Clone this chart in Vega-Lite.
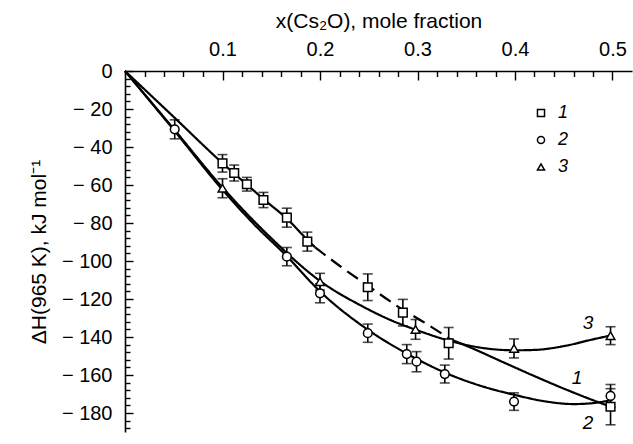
{
  "$schema": "https://vega.github.io/schema/vega-lite/v6.json",
  "width": 507,
  "height": 361,
  "autosize": "none",
  "padding": {"left": 125, "top": 71, "right": 1, "bottom": 12},
  "config": {
    "font": "Liberation Sans",
    "view": {"stroke": null},
    "axis": {"domainColor": "black", "tickColor": "black", "labelColor": "black", "titleColor": "black", "grid": false, "titleFontWeight": "normal", "domainWidth": 1.6, "tickWidth": 1.4}
  },
  "datasets": {
    "pts": [
      {"series": "1", "x": 0.1, "y": -48.6, "ylo": -53.2, "yhi": -44.0},
      {"series": "1", "x": 0.112, "y": -53.7, "ylo": -57.9, "yhi": -49.5},
      {"series": "1", "x": 0.125, "y": -59.6, "ylo": -63.2, "yhi": -56.0},
      {"series": "1", "x": 0.142, "y": -67.9, "ylo": -71.9, "yhi": -63.9},
      {"series": "1", "x": 0.166, "y": -77.2, "ylo": -82.2, "yhi": -72.2},
      {"series": "1", "x": 0.187, "y": -89.8, "ylo": -94.8, "yhi": -84.8},
      {"series": "1", "x": 0.249, "y": -113.8, "ylo": -120.8, "yhi": -106.8},
      {"series": "1", "x": 0.285, "y": -127.2, "ylo": -134.2, "yhi": -120.2},
      {"series": "1", "x": 0.332, "y": -143.3, "ylo": -151.6, "yhi": -135.0},
      {"series": "1", "x": 0.498, "y": -176.7, "ylo": -186.2, "yhi": -167.2},
      {"series": "2", "x": 0.051, "y": -30.7, "ylo": -35.7, "yhi": -25.7},
      {"series": "2", "x": 0.166, "y": -97.7, "ylo": -102.5, "yhi": -92.9},
      {"series": "2", "x": 0.2, "y": -117.0, "ylo": -122.0, "yhi": -112.0},
      {"series": "2", "x": 0.249, "y": -138.0, "ylo": -142.8, "yhi": -133.2},
      {"series": "2", "x": 0.289, "y": -149.0, "ylo": -154.0, "yhi": -144.0},
      {"series": "2", "x": 0.299, "y": -153.0, "ylo": -158.3, "yhi": -147.7},
      {"series": "2", "x": 0.328, "y": -159.5, "ylo": -164.2, "yhi": -154.8},
      {"series": "2", "x": 0.399, "y": -174.0, "ylo": -178.6, "yhi": -169.4},
      {"series": "2", "x": 0.498, "y": -171.0, "ylo": -177.0, "yhi": -165.0},
      {"series": "3", "x": 0.1, "y": -61.7, "ylo": -66.7, "yhi": -56.7},
      {"series": "3", "x": 0.2, "y": -110.9, "ylo": -115.3, "yhi": -106.5},
      {"series": "3", "x": 0.298, "y": -136.0, "ylo": -141.2, "yhi": -130.8},
      {"series": "3", "x": 0.399, "y": -146.0, "ylo": -151.0, "yhi": -141.0},
      {"series": "3", "x": 0.498, "y": -139.3, "ylo": -144.0, "yhi": -134.6}
    ],
    "curves": [
      {"seg": "1a", "style": "solid", "x": 0, "y": 0},
      {"seg": "1a", "style": "solid", "x": 0.05, "y": -24.2},
      {"seg": "1a", "style": "solid", "x": 0.1, "y": -48.5},
      {"seg": "1a", "style": "solid", "x": 0.112, "y": -54.0},
      {"seg": "1a", "style": "solid", "x": 0.125, "y": -59.8},
      {"seg": "1a", "style": "solid", "x": 0.143, "y": -67.8},
      {"seg": "1a", "style": "solid", "x": 0.167, "y": -78.2},
      {"seg": "1a", "style": "solid", "x": 0.187, "y": -88.8},
      {"seg": "1a", "style": "solid", "x": 0.195, "y": -92.8},
      {"seg": "1b", "style": "dashed", "x": 0.195, "y": -92.8},
      {"seg": "1b", "style": "dashed", "x": 0.22, "y": -102.5},
      {"seg": "1b", "style": "dashed", "x": 0.25, "y": -113.3},
      {"seg": "1b", "style": "dashed", "x": 0.28, "y": -124.0},
      {"seg": "1b", "style": "dashed", "x": 0.31, "y": -133.3},
      {"seg": "1b", "style": "dashed", "x": 0.333, "y": -141.0},
      {"seg": "1c", "style": "solid", "x": 0.333, "y": -141.0},
      {"seg": "1c", "style": "solid", "x": 0.36, "y": -146.8},
      {"seg": "1c", "style": "solid", "x": 0.385, "y": -152.6},
      {"seg": "1c", "style": "solid", "x": 0.42, "y": -160.6},
      {"seg": "1c", "style": "solid", "x": 0.453, "y": -167.8},
      {"seg": "1c", "style": "solid", "x": 0.487, "y": -174.6},
      {"seg": "1c", "style": "solid", "x": 0.5, "y": -177.0},
      {"seg": "2", "style": "solid", "x": 0, "y": 0},
      {"seg": "2", "style": "solid", "x": 0.05, "y": -31.0},
      {"seg": "2", "style": "solid", "x": 0.1, "y": -62.5},
      {"seg": "2", "style": "solid", "x": 0.133, "y": -81.0},
      {"seg": "2", "style": "solid", "x": 0.166, "y": -97.5},
      {"seg": "2", "style": "solid", "x": 0.2, "y": -116.0},
      {"seg": "2", "style": "solid", "x": 0.25, "y": -136.5},
      {"seg": "2", "style": "solid", "x": 0.29, "y": -149.0},
      {"seg": "2", "style": "solid", "x": 0.333, "y": -159.8},
      {"seg": "2", "style": "solid", "x": 0.37, "y": -166.5},
      {"seg": "2", "style": "solid", "x": 0.4, "y": -170.5},
      {"seg": "2", "style": "solid", "x": 0.43, "y": -173.8},
      {"seg": "2", "style": "solid", "x": 0.46, "y": -175.3},
      {"seg": "2", "style": "solid", "x": 0.48, "y": -174.8},
      {"seg": "2", "style": "solid", "x": 0.5, "y": -173.0},
      {"seg": "3", "style": "solid", "x": 0, "y": 0},
      {"seg": "3", "style": "solid", "x": 0.05, "y": -30.5},
      {"seg": "3", "style": "solid", "x": 0.1, "y": -61.3},
      {"seg": "3", "style": "solid", "x": 0.15, "y": -88.0},
      {"seg": "3", "style": "solid", "x": 0.2, "y": -110.5},
      {"seg": "3", "style": "solid", "x": 0.244, "y": -124.0},
      {"seg": "3", "style": "solid", "x": 0.272, "y": -131.0},
      {"seg": "3", "style": "solid", "x": 0.3, "y": -136.5},
      {"seg": "3", "style": "solid", "x": 0.34, "y": -143.0},
      {"seg": "3", "style": "solid", "x": 0.37, "y": -146.0},
      {"seg": "3", "style": "solid", "x": 0.4, "y": -147.0},
      {"seg": "3", "style": "solid", "x": 0.42, "y": -146.8},
      {"seg": "3", "style": "solid", "x": 0.453, "y": -144.5},
      {"seg": "3", "style": "solid", "x": 0.477, "y": -141.6},
      {"seg": "3", "style": "solid", "x": 0.5, "y": -139.0}
    ],
    "labels": [
      {"x": 0.475, "y": -132.5, "t": "3"},
      {"x": 0.4636, "y": -161.6, "t": "1"},
      {"x": 0.475, "y": -185.3, "t": "2"}
    ]
  },
  "layer": [
    {
      "data": {"name": "pts"},
      "mark": {"type": "point", "opacity": 0},
      "encoding": {
        "x": {"field": "x", "type": "quantitative", "scale": {"domain": [0, 0.52], "nice": false, "zero": false},
          "axis": {"orient": "top", "values": [0.02, 0.04, 0.06, 0.08, 0.12, 0.14, 0.16, 0.18, 0.22, 0.24, 0.26, 0.28, 0.32, 0.34, 0.36, 0.38, 0.42, 0.44, 0.46, 0.48], "labels": false, "domain": false, "tickSize": -5.5, "title": null}},
        "y": {"field": "y", "type": "quantitative", "scale": {"domain": [-190, 0], "nice": false, "zero": false},
          "axis": {"orient": "left", "values": [-4, -8, -12, -16, -24, -28, -32, -36, -44, -48, -52, -56, -64, -68, -72, -76, -84, -88, -92, -96, -104, -108, -112, -116, -124, -128, -132, -136, -144, -148, -152, -156, -164, -168, -172, -176, -184, -188], "labels": false, "domain": false, "tickSize": -5, "title": null}}
      }
    },
    {
      "data": {"name": "curves"},
      "mark": {"type": "line", "interpolate": "monotone", "color": "black", "strokeWidth": 2.2},
      "encoding": {
        "x": {"field": "x", "type": "quantitative", "scale": {"domain": [0, 0.52], "nice": false, "zero": false},
          "axis": {"orient": "top", "values": [0.1, 0.2, 0.3, 0.4, 0.5], "format": ".1f", "tickSize": -9, "labelPadding": 21, "labelFontSize": 20, "labelFlush": false, "title": "x(Cs₂O), mole fraction", "titleFontSize": 21, "titlePadding": 8}},
        "y": {"field": "y", "type": "quantitative", "scale": {"domain": [-190, 0], "nice": false, "zero": false},
          "axis": {"orient": "left", "values": [0, -20, -40, -60, -80, -100, -120, -140, -160, -180], "labelExpr": "datum.value < 0 ? '− ' + abs(datum.value) : '0'", "tickSize": -8, "labelPadding": 21, "labelFontSize": 20, "labelFlush": false, "title": "ΔH(965 K), kJ mol⁻¹", "titleFontSize": 21, "titlePadding": 12}},
        "detail": {"field": "seg"},
        "strokeDash": {"field": "style", "type": "nominal", "scale": {"domain": ["solid", "dashed"], "range": [[1, 0], [13, 7]]}, "legend": null}
      }
    },
    {
      "data": {"name": "pts"},
      "mark": {"type": "errorbar", "ticks": {"size": 10, "thickness": 1.6, "color": "black"}, "rule": {"strokeWidth": 1.6, "color": "black"}},
      "encoding": {
        "x": {"field": "x", "type": "quantitative", "axis": null},
        "y": {"field": "ylo", "type": "quantitative", "axis": null},
        "y2": {"field": "yhi"}
      }
    },
    {
      "data": {"name": "pts"},
      "mark": {"type": "point", "filled": true, "fill": "white", "stroke": "black", "strokeWidth": 1.5, "opacity": 1, "size": 75},
      "encoding": {
        "x": {"field": "x", "type": "quantitative", "axis": null},
        "y": {"field": "y", "type": "quantitative", "axis": null},
        "shape": {"field": "series", "type": "nominal", "scale": {"domain": ["1", "2", "3"], "range": ["square", "circle", "triangle-up"]},
          "legend": {"orient": "none", "legendX": 407, "legendY": 33, "title": null, "labelFontSize": 18, "labelFontStyle": "italic", "labelFont": "Liberation Sans", "labelColor": "black", "symbolSize": 50, "rowPadding": 9, "labelOffset": 8, "padding": 0,
            "encode": {"symbols": {"update": {"fill": {"value": "white"}, "stroke": {"value": "black"}, "strokeWidth": {"value": 1.3}, "opacity": {"value": 1}}}}}}
      }
    },
    {
      "data": {"name": "labels"},
      "mark": {"type": "text", "fontSize": 19, "fontStyle": "italic", "color": "black"},
      "encoding": {
        "x": {"field": "x", "type": "quantitative", "axis": null},
        "y": {"field": "y", "type": "quantitative", "axis": null},
        "text": {"field": "t"}
      }
    }
  ],
  "resolve": {"axis": {"x": "independent", "y": "independent"}}
}
